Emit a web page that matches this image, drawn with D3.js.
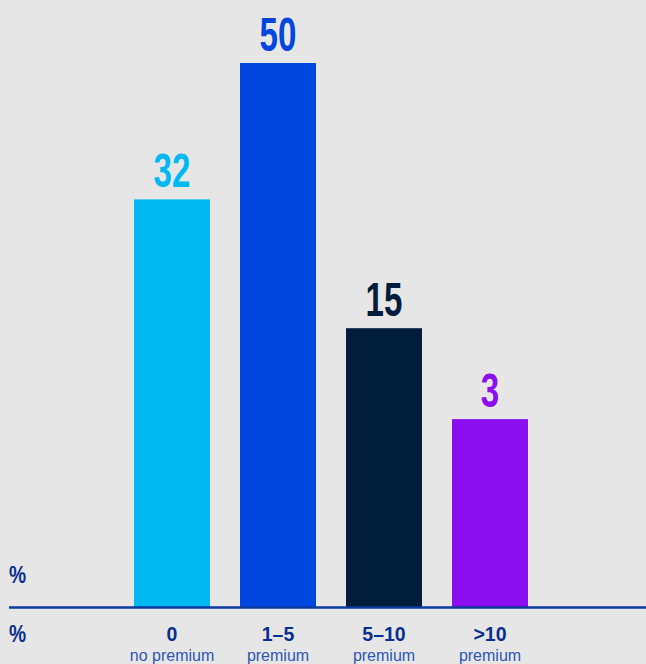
<!DOCTYPE html>
<html>
<head>
<meta charset="utf-8">
<script src="https://cdn.jsdelivr.net/npm/d3@7"></script>
<style>
  body { margin: 0; background: #e6e6e6; }
  svg { display: block; }
</style>
</head>
<body>
<div id="chart"></div>
<script>
var categories = ["0", "1–5", "5–10", ">10"];
var subLabels = ["no premium", "premium", "premium", "premium"];
var values = [32, 50, 15, 3];
var colors = ["#00b9f2", "#0047e0", "#001e3c", "#8a0ef0"];

var width = 646, height = 664;
var baseY = 607.5;

var svg = d3.select("#chart")
    .append("svg")
    .attr("width", width)
    .attr("height", height);

svg.append("rect")
    .attr("width", width)
    .attr("height", height)
    .attr("fill", "#e6e6e6");

var x = d3.scaleBand()
    .domain(categories)
    .range([119, 543])
    .paddingInner(0.283)
    .paddingOuter(0.1415);

// bars sit on a raised floor, so the value axis starts below zero
var y = d3.scaleLinear()
    .domain([-21.86, 50])
    .range([baseY, 63]);

svg.append("g")
    .selectAll("rect")
    .data(values)
    .enter().append("rect")
    .attr("x", function(d, i) { return x(categories[i]); })
    .attr("y", function(d) { return y(d); })
    .attr("width", x.bandwidth())
    .attr("height", function(d) { return baseY - y(d); })
    .attr("fill", function(d, i) { return colors[i]; });

// value labels (condensed look)
svg.append("g")
    .selectAll("text")
    .data(values)
    .enter().append("text")
    .attr("transform", function(d, i) {
        return "translate(" + (x(categories[i]) + x.bandwidth() / 2) + "," + (y(d) - 12) + ") scale(0.69,1)";
    })
    .attr("text-anchor", "middle")
    .style("font-family", "'Liberation Sans', Arial, sans-serif")
    .style("font-weight", "bold")
    .style("font-size", "48px")
    .attr("fill", function(d, i) { return colors[i]; })
    .text(function(d) { return d; });

// baseline
svg.append("line")
    .attr("x1", 9)
    .attr("x2", width)
    .attr("y1", baseY)
    .attr("y2", baseY)
    .attr("stroke", "#0b3a9e")
    .attr("stroke-width", 2.7);

// category labels
var cat = svg.append("g")
    .selectAll("g")
    .data(categories)
    .enter().append("g")
    .attr("transform", function(d) { return "translate(" + (x(d) + x.bandwidth() / 2) + ",0)"; });

cat.append("text")
    .attr("y", 641)
    .attr("text-anchor", "middle")
    .style("font-family", "'Liberation Sans', Arial, sans-serif")
    .style("font-weight", "bold")
    .style("font-size", "19.5px")
    .attr("fill", "#0b2f8f")
    .text(function(d) { return d; });

cat.append("text")
    .attr("y", 661)
    .attr("text-anchor", "middle")
    .style("font-family", "'Liberation Sans', Arial, sans-serif")
    .style("font-size", "16px")
    .attr("fill", "#2d56b4")
    .text(function(d, i) { return subLabels[i]; });

// % markers
[583, 642].forEach(function(py) {
    svg.append("text")
        .attr("transform", "translate(9," + py + ") scale(0.8,1)")
        .style("font-family", "'Liberation Sans', Arial, sans-serif")
        .style("font-weight", "bold")
        .style("font-size", "24px")
        .attr("fill", "#0b2f8f")
        .text("%");
});
</script>
</body>
</html>
